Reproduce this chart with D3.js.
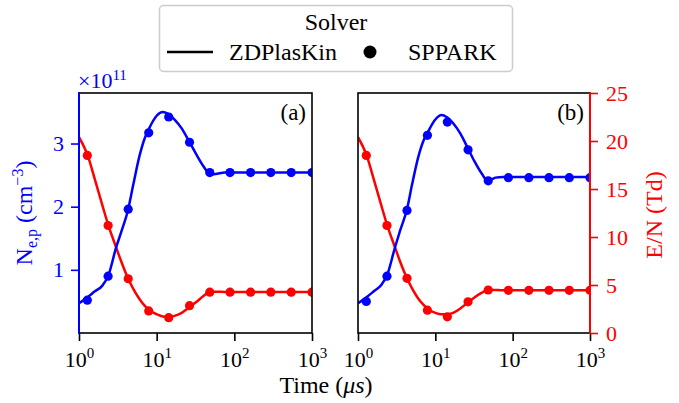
<!DOCTYPE html>
<html><head><meta charset="utf-8">
<script src="https://cdn.jsdelivr.net/npm/d3@7"></script>
<style>body{margin:0;background:#fff}svg{display:block}</style>
</head><body><svg id="c" width="679" height="403" font-family="Liberation Serif, serif"></svg>
<script>
// ---- data ----
const markerTime = [1.28, 2.37, 4.3, 7.9, 14.3, 26.5, 48.3, 88, 162, 295, 540, 1000];
const neMarkA = [0.52, 0.90, 1.96, 3.17, 3.42, 3.02, 2.54, 2.54, 2.54, 2.54, 2.54, 2.54];
const enMarkA = [18.5, 11.2, 5.65, 2.3, 1.6, 2.85, 4.25, 4.25, 4.25, 4.25, 4.25, 4.25];
const neMarkB = [0.50, 0.90, 1.94, 3.13, 3.34, 2.90, 2.41, 2.46, 2.46, 2.46, 2.46, 2.46];
const enMarkB = [18.5, 11.2, 5.7, 2.38, 1.68, 3.25, 4.48, 4.45, 4.45, 4.45, 4.45, 4.45];

const lineTime = [1, 1.3, 1.6, 2.0, 2.4, 3.0, 3.5, 4.3, 5.0, 6.0, 7.0, 8.0, 10, 12, 14, 17, 21, 26, 32, 40, 46, 52, 60, 75, 150, 400, 1000];
const neLineA = [0.47, 0.57, 0.66, 0.75, 0.92, 1.35, 1.60, 1.96, 2.35, 2.80, 3.08, 3.24, 3.44, 3.50, 3.47, 3.38, 3.24, 3.04, 2.84, 2.64, 2.54, 2.51, 2.52, 2.54, 2.54, 2.54, 2.54];
const enLineA = [20.4, 18.45, 16.0, 13.3, 11.15, 8.95, 7.45, 5.65, 4.6, 3.55, 2.85, 2.4, 1.95, 1.72, 1.68, 1.78, 2.1, 2.65, 3.2, 3.85, 4.2, 4.3, 4.3, 4.28, 4.28, 4.28, 4.28];
const neLineB = [0.47, 0.57, 0.66, 0.76, 0.93, 1.35, 1.62, 1.96, 2.35, 2.78, 3.04, 3.18, 3.38, 3.45, 3.42, 3.32, 3.16, 2.94, 2.72, 2.52, 2.43, 2.43, 2.46, 2.47, 2.47, 2.47, 2.47];
const enLineB = [20.4, 18.45, 16.0, 13.3, 11.15, 8.95, 7.45, 5.7, 4.65, 3.6, 2.95, 2.5, 2.1, 1.95, 1.95, 2.1, 2.55, 3.15, 3.7, 4.2, 4.45, 4.5, 4.48, 4.45, 4.45, 4.45, 4.45];

const xTicks = [1, 10, 100, 1000];
const xTickExp = ["0", "1", "2", "3"];
const neTicks = [1, 2, 3];
const enTicks = [0, 5, 10, 15, 20, 25];

const FONT = '"Liberation Serif", "Times New Roman", serif';
const BLUE = "#0000ff", RED = "#ff0000";
const svg = d3.select("#c");
const yTop = 93, yBot = 333;
const yN = d3.scaleLinear().domain([0, 3.8]).range([yBot, yTop]);
const yE = d3.scaleLinear().domain([0, 25]).range([yBot, yTop]);

const panels = [
  {id: "a", x0: 79, x1: 312, ne: neLineA, en: enLineA, neM: neMarkA, enM: enMarkA},
  {id: "b", x0: 358, x1: 590, ne: neLineB, en: enLineB, neM: neMarkB, enM: enMarkB}
];
const defs = svg.append("defs");
const txt = (sel, size) => sel.style("font-family", FONT).style("font-size", size + "px");

panels.forEach((p, i) => {
  const x = d3.scaleLog().domain([1, 1000]).range([p.x0, p.x1]);
  defs.append("clipPath").attr("id", "clip" + p.id).append("rect")
    .attr("x", p.x0).attr("y", yTop).attr("width", p.x1 - p.x0).attr("height", yBot - yTop);
  const g = svg.append("g").attr("clip-path", `url(#clip${p.id})`);
  const line = y => d3.line().x(d => x(d[0])).y(d => y(d[1])).curve(d3.curveMonotoneX);
  g.append("path").datum(lineTime.map((t, k) => [t, p.en[k]])).attr("d", line(yE))
    .attr("fill", "none").attr("stroke", RED).attr("stroke-width", 2.5);
  g.append("path").datum(lineTime.map((t, k) => [t, p.ne[k]])).attr("d", line(yN))
    .attr("fill", "none").attr("stroke", BLUE).attr("stroke-width", 2.5);
  g.selectAll(".mr").data(markerTime.map((t, k) => [t, p.enM[k]])).join("circle")
    .attr("cx", d => x(d[0])).attr("cy", d => yE(d[1])).attr("r", 4.6).attr("fill", RED);
  g.selectAll(".mb").data(markerTime.map((t, k) => [t, p.neM[k]])).join("circle")
    .attr("cx", d => x(d[0])).attr("cy", d => yN(d[1])).attr("r", 4.6).attr("fill", BLUE);

  // x axis
  const ax = svg.append("g").attr("transform", `translate(0,${yBot})`)
    .call(d3.axisBottom(x).tickValues(xTicks).tickSize(8).tickFormat(""));
  ax.select(".domain").remove();
  ax.selectAll(".tick line").attr("stroke", "#000").attr("stroke-width", 1.6);
  ax.selectAll(".tick").each(function(d, k) {
    const t = d3.select(this).append("text").attr("fill", "#000").attr("y", 34)
      .attr("text-anchor", "middle");
    txt(t, 22);
    t.append("tspan").text("10");
    t.append("tspan").attr("dy", -9).style("font-size", "15px").text(xTickExp[k]);
  });

  // frame
  svg.append("rect").attr("x", p.x0).attr("y", yTop).attr("width", p.x1 - p.x0).attr("height", yBot - yTop)
    .attr("fill", "none").attr("stroke", "#000").attr("stroke-width", 1.6);

  // panel label
  txt(svg.append("text").attr("x", p.x1 - 6).attr("y", 120).attr("text-anchor", "end"), 23).text(`(${p.id})`);
});

// left y axis (panel a)
const ayl = svg.append("g").attr("transform", "translate(79,0)")
  .call(d3.axisLeft(yN).tickValues(neTicks).tickSize(8).tickPadding(7).tickFormat(d3.format("d")));
ayl.select(".domain").remove();
ayl.selectAll(".tick line").attr("stroke", BLUE).attr("stroke-width", 1.6);
txt(ayl.selectAll(".tick text").attr("fill", BLUE), 22);
svg.append("line").attr("x1", 79).attr("x2", 79).attr("y1", yTop - 0.8).attr("y2", yBot + 0.8)
  .attr("stroke", BLUE).attr("stroke-width", 2);

// right y axis (panel b)
const ayr = svg.append("g").attr("transform", "translate(590,0)")
  .call(d3.axisRight(yE).tickValues(enTicks).tickSize(8).tickPadding(8).tickFormat(d3.format("d")));
ayr.select(".domain").remove();
ayr.selectAll(".tick line").attr("stroke", RED).attr("stroke-width", 1.6);
txt(ayr.selectAll(".tick text").attr("fill", RED), 22);
svg.append("line").attr("x1", 590).attr("x2", 590).attr("y1", yTop - 0.8).attr("y2", yBot + 0.8)
  .attr("stroke", RED).attr("stroke-width", 2);

// offset text
const off = txt(svg.append("text").attr("x", 78).attr("y", 88).attr("fill", BLUE), 22);
off.append("tspan").text("×10");
off.append("tspan").attr("dy", -8).style("font-size", "15px").text("11");

// axis labels
const yl = txt(svg.append("text").attr("transform", "translate(32,213) rotate(-90)").attr("text-anchor", "middle")
  .attr("fill", BLUE), 24);
yl.append("tspan").text("N");
yl.append("tspan").attr("dy", 5).style("font-size", "16px").text("e,p");
yl.append("tspan").attr("dy", -5).text(" (cm");
yl.append("tspan").attr("dy", -9).style("font-size", "16px").text("−3");
yl.append("tspan").attr("dy", 9).text(")");

txt(svg.append("text").attr("transform", "translate(662,215) rotate(-90)").attr("text-anchor", "middle")
  .attr("fill", RED), 24).text("E/N (Td)");

const xl = txt(svg.append("text").attr("x", 326).attr("y", 393).attr("text-anchor", "middle"), 24);
xl.append("tspan").text("Time (");
xl.append("tspan").style("font-style", "italic").text("μs");
xl.append("tspan").text(")");

// legend
const lg = svg.append("g");
lg.append("rect").attr("x", 159.5).attr("y", 5.5).attr("width", 353).attr("height", 66).attr("rx", 4)
  .attr("fill", "#fff").attr("fill-opacity", 0.8).attr("stroke", "#cccccc").attr("stroke-width", 1.5);
txt(lg.append("text").attr("x", 336).attr("y", 30).attr("text-anchor", "middle"), 24).text("Solver");
lg.append("line").attr("x1", 167).attr("x2", 213).attr("y1", 52).attr("y2", 52).attr("stroke", "#000").attr("stroke-width", 2.5);
txt(lg.append("text").attr("x", 229).attr("y", 60), 24).text("ZDPlasKin");
lg.append("circle").attr("cx", 370).attr("cy", 52).attr("r", 6.5).attr("fill", "#000");
txt(lg.append("text").attr("x", 408).attr("y", 60), 24).text("SPPARK");
</script></body></html>
